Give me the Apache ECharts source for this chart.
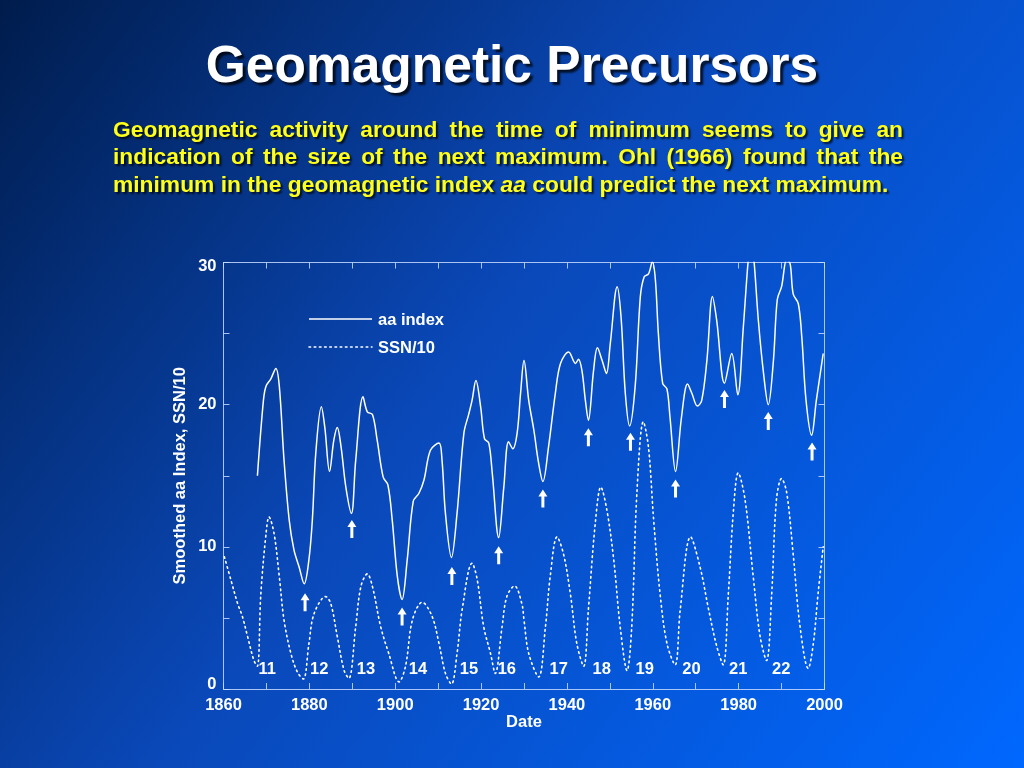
<!DOCTYPE html>
<html><head><meta charset="utf-8">
<script src="https://cdn.jsdelivr.net/npm/echarts@6/dist/echarts.min.js"></script>
<style>html,body{margin:0;padding:0;width:1024px;height:768px;overflow:hidden;background:#003399}#c{width:1024px;height:768px}</style>
</head><body><div id="c"></div>
<script>
var aaYears = [1867.9,1869.3,1869.9,1871.0,1872.2,1873.0,1874.1,1875.3,1876.4,1877.6,1878.8,1879.9,1880.7,1881.5,1882.8,1883.6,1884.7,1885.7,1886.5,1887.4,1888.5,1889.8,1890.8,1892.5,1893.5,1894.7,1895.8,1897.2,1898.3,1899.3,1900.5,1901.6,1902.8,1904.2,1905.5,1906.7,1908.2,1910.2,1910.9,1911.7,1913.1,1914.4,1916.0,1917.1,1917.9,1918.8,1919.9,1920.8,1921.8,1922.6,1924.1,1925.3,1926.4,1927.4,1928.4,1929.2,1930.0,1931.1,1932.3,1933.4,1934.4,1935.7,1937.3,1938.5,1940.4,1942.0,1942.7,1943.5,1944.3,1945.0,1946.2,1947.1,1948.2,1949.2,1950.1,1951.7,1952.6,1953.6,1954.6,1955.9,1957.1,1958.0,1959.0,1959.9,1960.6,1961.3,1962.3,1963.3,1964.0,1965.3,1966.7,1968.1,1969.1,1970.4,1971.4,1972.6,1973.9,1974.9,1976.7,1978.4,1979.8,1981.1,1982.3,1982.9,1983.5,1984.6,1985.8,1986.9,1988.1,1989.0,1990.0,1991.2,1992.0,1992.7,1993.9,1994.7,1995.7,1997.0,1998.1,1999.7];
var aaValues = [15.0,20.3,21.3,21.8,22.55,21.3,16.1,11.9,9.8,8.6,7.4,9.1,11.9,16.6,19.85,18.4,15.3,17.5,18.4,17.0,14.2,12.35,16.1,20.55,19.5,19.3,17.5,14.9,14.35,11.9,7.9,6.3,9.1,13.2,13.75,14.7,16.8,17.3,16.1,12.35,9.25,12.35,18.0,19.3,20.3,21.7,19.85,17.6,17.3,15.2,10.65,14.2,17.4,16.9,18.0,20.8,23.1,20.3,18.2,15.9,14.6,17.0,20.8,22.9,23.7,22.9,23.2,22.4,20.3,18.9,22.4,24.0,23.1,22.2,24.3,28.3,26.2,20.8,18.5,21.3,27.6,29.0,29.2,30.05,28.8,25.0,21.5,21.1,19.15,15.3,19.15,21.45,20.8,19.9,20.3,23.1,27.6,25.9,21.5,23.6,20.7,25.5,30.4,31.5,30.4,25.9,22.2,20.0,23.1,27.4,28.3,30.2,29.9,27.8,27.1,24.8,20.3,17.85,20.3,23.6];
var ssnYears = [1860.2,1861.7,1863.3,1864.4,1865.6,1867.1,1867.9,1868.7,1869.9,1870.6,1871.8,1873.0,1874.1,1875.7,1877.2,1878.6,1879.9,1881.1,1883.8,1885.0,1886.5,1888.1,1889.2,1890.8,1892.0,1893.5,1894.7,1896.6,1898.5,1900.9,1902.4,1904.0,1906.3,1908.6,1910.2,1911.7,1913.1,1914.4,1915.6,1917.9,1919.1,1920.6,1922.2,1923.3,1924.9,1926.0,1927.8,1929.5,1930.0,1931.1,1933.4,1935.0,1936.1,1937.7,1939.2,1940.8,1942.3,1943.9,1945.0,1946.6,1947.9,1949.3,1950.9,1952.4,1954.0,1955.1,1956.3,1957.8,1959.0,1960.2,1961.7,1963.3,1965.2,1966.4,1968.8,1971.0,1973.0,1974.9,1976.4,1977.6,1978.8,1979.9,1981.5,1983.4,1985.0,1986.5,1987.7,1988.8,1990.0,1991.2,1992.7,1994.3,1996.2,1997.4,1998.5,1999.7];
var ssnValues = [9.3,7.7,6.0,5.1,3.7,2.0,1.6,6.7,10.9,12.1,10.9,7.9,4.85,2.5,1.2,0.7,3.2,5.3,6.5,6.0,3.7,1.3,0.75,4.4,7.2,8.1,7.2,4.4,2.5,0.5,1.6,4.85,6.1,5.1,3.2,1.1,0.35,2.5,5.6,8.85,7.7,4.4,2.5,1.1,4.4,6.5,7.25,6.0,4.85,2.5,0.85,4.4,7.9,10.7,9.5,6.7,3.2,1.6,5.6,11.65,14.2,12.6,9.1,4.4,1.3,4.4,13.8,18.8,17.0,11.9,6.7,3.2,1.7,5.6,10.7,8.6,5.6,3.0,1.7,6.7,12.6,15.2,13.3,7.9,3.7,2.0,6.7,13.3,14.8,13.8,9.5,4.4,1.45,3.2,6.7,10.0];
var arrowYears = [1879.0,1889.9,1901.6,1913.2,1924.1,1934.4,1945.0,1954.8,1965.3,1976.7,1986.9,1997.1];
var arrowValues = [6.1,11.25,5.1,7.95,9.4,13.4,17.7,17.4,14.1,20.4,18.85,16.7];
var cycleNumbers = ['11','12','13','14','15','16','17','18','19','20','21','22'];
var cycleYears = [1870.2,1882.3,1893.2,1905.3,1917.2,1926.0,1938.1,1948.1,1958.1,1969.0,1979.9,1989.9];
var cycleLabelLevel = 1.4;
var xTickLabels = [1860,1880,1900,1920,1940,1960,1980,2000];
var yTickLabels = [0,10,20,30];
var legendNames = ['aa index', 'SSN/10'];

var titleText = 'Geomagnetic Precursors';
var bodyLines = [
  'Geomagnetic activity around the time of minimum seems to give an',
  'indication of the size of the next maximum. Ohl (1966) found that the'
];
var lastLine = ['minimum in the geomagnetic index ', 'aa', ' could predict the next maximum.'];

var FONT = '"Liberation Sans", Arial, Helvetica, sans-serif';
var axisColor = 'rgba(200,218,255,0.85)';
var yellow = '#ffff1a';

function zip(a, b) { var r = []; for (var i = 0; i < a.length; i++) r.push([a[i], b[i]]); return r; }

var chart = echarts.init(document.getElementById('c'), null, {renderer: 'canvas'});

var mc = document.createElement('canvas').getContext('2d');
var bodySize = 22.8;
function tw(t, italic) { mc.font = (italic ? 'italic ' : '') + 'bold ' + bodySize + 'px ' + FONT; return mc.measureText(t).width; }

var L = 113, R = 903;
var lineY = [131, 158, 185.5];
var shadow = {textShadowColor: 'rgba(0,0,0,0.75)', textShadowOffsetX: 2, textShadowOffsetY: 2, textShadowBlur: 2};
var graphics = [];
graphics.push({
  type: 'rect', z: -10, silent: true,
  shape: {x: 0, y: 0, width: 1024, height: 768},
  style: {fill: new echarts.graphic.LinearGradient(0, 0, 1, 1, [
    {offset: 0, color: '#001c4c'},
    {offset: 0.45, color: '#0a48b8'},
    {offset: 1, color: '#0068ff'}
  ])}
});
graphics.push({
  type: 'text', x: 512, y: 68, silent: true,
  style: Object.assign({text: titleText, fill: '#ffffff', font: 'bold 51.5px ' + FONT, align: 'center', verticalAlign: 'middle'}, shadow, {textShadowOffsetX: 3, textShadowOffsetY: 3})
});
bodyLines.forEach(function (line, li) {
  var words = line.split(' ');
  var widths = words.map(function (w) { return tw(w); });
  var sum = widths.reduce(function (a, b) { return a + b; }, 0);
  var gap = (R - L - sum) / (words.length - 1);
  var x = L;
  words.forEach(function (w, i) {
    graphics.push({
      type: 'text', x: x, y: lineY[li], silent: true,
      style: Object.assign({text: w, fill: yellow, font: 'bold ' + bodySize + 'px ' + FONT, align: 'left', verticalAlign: 'middle'}, shadow)
    });
    x += widths[i] + gap;
  });
});
var x3 = L;
lastLine.forEach(function (seg, i) {
  var it = (i === 1);
  graphics.push({
    type: 'text', x: x3, y: lineY[2], silent: true,
    style: Object.assign({text: seg, fill: yellow, font: (it ? 'italic ' : '') + 'bold ' + bodySize + 'px ' + FONT, align: 'left', verticalAlign: 'middle'}, shadow)
  });
  x3 += tw(seg, it);
});

var legendX = 309, legendLen = 63, legendY = [319, 347];
graphics.push({type: 'line', silent: true, z: 10,
  shape: {x1: legendX, y1: legendY[0], x2: legendX + legendLen, y2: legendY[0]},
  style: {stroke: '#ffffff', lineWidth: 1.5}});
graphics.push({type: 'line', silent: true, z: 10,
  shape: {x1: legendX, y1: legendY[1], x2: legendX + legendLen, y2: legendY[1]},
  style: {stroke: '#ffffff', lineWidth: 1.6, lineDash: [1.6, 3.6], lineCap: 'round'}});
legendNames.forEach(function (n, i) {
  graphics.push({type: 'text', silent: true, z: 10, x: legendX + legendLen + 6, y: legendY[i] + 1,
    style: {text: n, fill: '#ffffff', font: 'bold 16.5px ' + FONT, align: 'left', verticalAlign: 'middle'}});
});

var labelFont = {color: '#ffffff', fontWeight: 'bold', fontSize: 16.5, fontFamily: FONT};
var tickStyle = {color: axisColor, width: 1};

var option = {
  animation: false,
  graphic: graphics,
  grid: {left: 223.5, right: 199.5, top: 262.5, bottom: 79, show: false},
  xAxis: [{
    type: 'value', min: 1860, max: 2000, interval: 10, position: 'bottom',
    axisLine: {show: true, onZero: false, lineStyle: tickStyle},
    axisTick: {show: true, inside: true, length: 6, lineStyle: tickStyle},
    splitLine: {show: false},
    axisLabel: Object.assign({margin: 8, formatter: function (v) { return xTickLabels.indexOf(v) >= 0 ? String(v) : ''; }}, labelFont),
    name: 'Date', nameLocation: 'middle', nameGap: 25, nameMoveOverlap: false,
    nameTextStyle: Object.assign({}, labelFont)
  }, {
    type: 'value', min: 1860, max: 2000, interval: 10, position: 'top',
    axisLine: {show: true, onZero: false, lineStyle: tickStyle},
    axisTick: {show: true, inside: true, length: 6, lineStyle: tickStyle},
    splitLine: {show: false}, axisLabel: {show: false}
  }],
  yAxis: [{
    type: 'value', min: 0, max: 30, interval: 5, position: 'left',
    axisLine: {show: true, onZero: false, lineStyle: tickStyle},
    axisTick: {show: true, inside: true, length: 6, lineStyle: tickStyle},
    splitLine: {show: false},
    axisLabel: Object.assign({margin: 7,
      formatter: function (v) {
        if (yTickLabels.indexOf(v) < 0) return '';
        if (v === 0) return '{lo|' + v + '}';
        if (v === 30) return '{hi|' + v + '}';
        return String(v);
      },
      rich: {
        lo: Object.assign({padding: [0, 0, 10, 0]}, labelFont),
        hi: Object.assign({padding: [8, 0, 0, 0]}, labelFont)
      }}, labelFont),
    name: 'Smoothed aa Index, SSN/10', nameLocation: 'middle', nameGap: 35, nameRotate: 90, nameMoveOverlap: false,
    nameTextStyle: Object.assign({}, labelFont)
  }, {
    type: 'value', min: 0, max: 30, interval: 5, position: 'right',
    axisLine: {show: true, onZero: false, lineStyle: tickStyle},
    axisTick: {show: true, inside: true, length: 6, lineStyle: tickStyle},
    splitLine: {show: false}, axisLabel: {show: false}
  }],
  series: [{
    name: legendNames[0], type: 'line', data: zip(aaYears, aaValues),
    showSymbol: false, symbol: 'none', smooth: 0.35, clip: true,
    lineStyle: {color: '#ffffff', width: 1.5},
    itemStyle: {color: '#ffffff'}, z: 4
  }, {
    name: legendNames[1], type: 'line', data: zip(ssnYears, ssnValues),
    showSymbol: false, symbol: 'none', smooth: 0.35, clip: true,
    lineStyle: {color: '#ffffff', width: 1.6, type: [1.6, 3.6], cap: 'round'},
    itemStyle: {color: '#ffffff'}, z: 3
  }, {
    name: 'arrows', type: 'scatter', data: zip(arrowYears, arrowValues),
    symbol: 'path://M4.5,0 L9,7 L6,7 L6,18 L3,18 L3,7 L0,7 Z',
    symbolSize: [9, 18], itemStyle: {color: '#ffffff', opacity: 1}, silent: true, z: 5
  }, {
    name: 'cycles', type: 'scatter',
    data: cycleYears.map(function (y, i) { return {value: [y, cycleLabelLevel], name: cycleNumbers[i]}; }),
    symbol: 'circle', symbolSize: 1, itemStyle: {color: 'rgba(0,0,0,0)', opacity: 1}, silent: true, z: 5,
    label: Object.assign({show: true, position: 'inside', opacity: 1, formatter: function (p) { return p.name; }}, labelFont)
  }]
};
chart.setOption(option);
</script>
</body></html>
